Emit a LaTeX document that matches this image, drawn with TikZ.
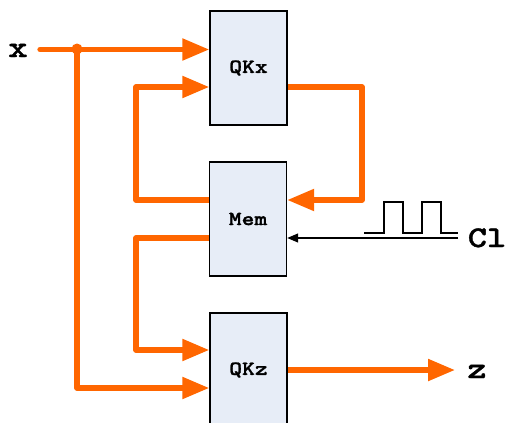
\documentclass[tikz,border=0pt]{standalone}
\usepackage{fontspec}
\newfontfamily\cour{Latin Modern Mono Light}[FakeStretch=1.22, BoldFeatures={FakeBold=1.3}]
\usetikzlibrary{arrows.meta,backgrounds}
\definecolor{wireor}{HTML}{FF6600}
\definecolor{boxfill}{HTML}{E7EDF7}
\begin{document}
\begin{tikzpicture}[x=1pt,y=-1pt,
  blk/.style={draw=black,line width=1.4pt,fill=boxfill,minimum width=77pt,minimum height=114pt,inner sep=0pt,font=\cour\bfseries\fontsize{20}{22}\selectfont},
  wire/.style={draw=wireor,line width=5.3pt,line join=round,line cap=round},
  arr/.style={wire,-{Triangle[length=27pt,width=21pt]}},
  lbl/.style={font=\cour\bfseries\fontsize{30}{32}\selectfont,inner sep=0pt,anchor=base},
  clk/.style={draw=black,line width=1.3pt}]
\useasboundingbox (0,0) rectangle (506,423);
\node[blk] (QKx) at (248.5,68) {QKx};
\node[blk] (Mem) at (248,219) {Mem};
\node[blk] (QKz) at (248.5,370) {QKz};
\node[lbl] (xl) at (18,57) {x};
\node[lbl] (zl) at (477,378) {z};
\node[lbl] (cl) at (487,247) {Cl};
\coordinate (xin) at (40,49.5);
\coordinate (dot) at (77,49);
\coordinate (zend) at (455,370);
\coordinate (clkin) at (458,238);
\begin{scope}[on background layer]
\draw[arr] (xin) -- (xin -| QKx.west);
\draw[arr] (dot) -- (77,388) -- (QKz.west |- 0,388);
\fill[wireor] (dot) circle (5.5pt);
\draw[arr] (Mem.west |- 0,200) -- (136,200) -- (136,87) -- (QKx.west |- 0,87);
\draw[arr] (QKx.east |- 0,87) -- (362,87) -- (362,200) -- (Mem.east |- 0,200);
\draw[arr] (Mem.west |- 0,238) -- (136,238) -- (136,350) -- (QKz.west |- 0,350);
\draw[arr] (QKz.east) -- (zend);
\draw[clk,-{Triangle[length=11pt,width=9pt]}] (clkin) -- (Mem.east |- clkin);
\end{scope}
\draw[clk] (364,233) -- (384,233) -- (384,202) -- (403,202) -- (403,233) -- (422,233) -- (422,202) -- (441,202) -- (441,233) -- (458,233);
\end{tikzpicture}
\end{document}
